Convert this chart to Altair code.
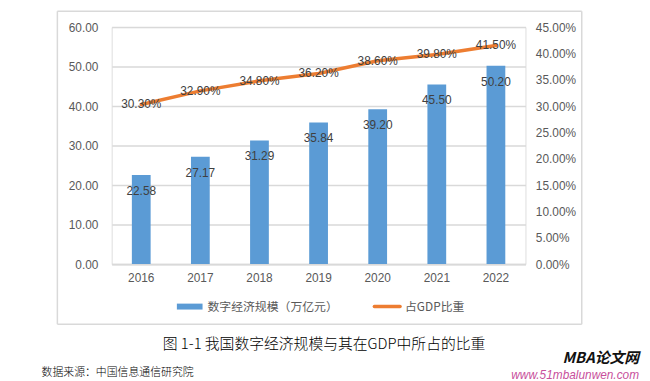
import altair as alt
import pandas as pd

years = ["2016", "2017", "2018", "2019", "2020", "2021", "2022"]
scale_vals = [22.58, 27.17, 31.29, 35.84, 39.20, 45.50, 50.20]
gdp_share = [30.30, 32.90, 34.80, 36.20, 38.60, 39.80, 41.50]

legend_bar = "数字经济规模（万亿元）"
legend_line = "占GDP比重"
caption = "图 1-1 我国数字经济规模与其在GDP中所占的比重"
source = "数据来源：中国信息通信研究院"
wm1 = "MBA论文网"
wm2 = "www.51mbalunwen.com"

df = pd.DataFrame({"year": years, "scale": scale_vals, "share": gdp_share})
one = pd.DataFrame({"k": [0]})

NUM_FONT = "Liberation Sans"
CJK_FONT = "Noto Sans CJK SC"
GRID = "#d9d9d9"
LABEL = "#595959"
BLUE = "#5B9BD5"
ORANGE = "#ED7D31"

x_enc = alt.X("year:N", sort=years, title=None,
              scale=alt.Scale(paddingInner=0, paddingOuter=0),
              axis=alt.Axis(labelAngle=0, ticks=False, domainColor=GRID, domainWidth=2,
                            labelFont=NUM_FONT, labelFontSize=12, labelColor=LABEL,
                            labelPadding=9, grid=False))

y_left = alt.Y("scale:Q", title=None,
               scale=alt.Scale(domain=[0, 60], nice=False, zero=True),
               axis=alt.Axis(values=[0, 10, 20, 30, 40, 50, 60], format=".2f",
                             labelOverlap=False, labelBound=False, labelFlush=False,
                             domain=False, ticks=False, labelPadding=14,
                             labelFont=NUM_FONT, labelFontSize=12, labelColor=LABEL,
                             gridColor=GRID, gridWidth=1.5))

y_right = alt.Y("share:Q", title=None,
                scale=alt.Scale(domain=[0, 45], nice=False, zero=True),
                axis=alt.Axis(orient="right", values=[0, 5, 10, 15, 20, 25, 30, 35, 40, 45],
                              labelExpr="format(datum.value, '.2f') + '%'",
                              labelOverlap=False, labelBound=False, labelFlush=False,
                              domain=False, ticks=False, grid=False, labelPadding=10,
                              labelFont=NUM_FONT, labelFontSize=12, labelColor=LABEL))

base = alt.Chart(df)

bars = base.mark_bar(color=BLUE, size=19).encode(x=x_enc, y=y_left)
bar_text = base.mark_text(font=NUM_FONT, fontSize=12, color="#404040", dy=16,
                          baseline="middle").encode(
    x=x_enc, y=y_left, text=alt.Text("scale:Q", format=".2f"))

line = base.mark_line(color=ORANGE, strokeWidth=3.5, strokeCap="round").encode(
    x=x_enc, y=y_right)
line_text = base.transform_calculate(
    lbl="format(datum.share, '.2f') + '%'"
).mark_text(font=NUM_FONT, fontSize=12, color="#404040", baseline="middle").encode(
    x=x_enc, y=y_right, text="lbl:N")

ann = alt.Chart(one)
BL, BR, BT, BB = -55, 476, -16, 301
b_top = ann.mark_rule(color=GRID, strokeWidth=1.5).encode(
    x=alt.value(BL), x2=alt.value(BR), y=alt.value(BT))
b_bot = ann.mark_rule(color=GRID, strokeWidth=1.5).encode(
    x=alt.value(BL), x2=alt.value(BR), y=alt.value(BB))
b_left = ann.mark_rule(color=GRID, strokeWidth=1.5).encode(
    x=alt.value(BL), y=alt.value(BT), y2=alt.value(BB))
b_right = ann.mark_rule(color=GRID, strokeWidth=1.5).encode(
    x=alt.value(BR), y=alt.value(BT), y2=alt.value(BB))

leg_rect = ann.mark_rect(color=BLUE).encode(
    x=alt.value(66), x2=alt.value(92), y=alt.value(280), y2=alt.value(286))
leg_t1 = ann.mark_text(align="left", baseline="middle", font=CJK_FONT, fontSize=12,
                       color=LABEL).encode(x=alt.value(97), y=alt.value(283),
                                           text=alt.value(legend_bar))
leg_line = ann.mark_rule(color=ORANGE, strokeWidth=3.5, strokeCap="round").encode(
    x=alt.value(266), x2=alt.value(292), y=alt.value(283))
leg_t2 = ann.mark_text(align="left", baseline="middle", font=CJK_FONT, fontSize=12,
                       color=LABEL).encode(x=alt.value(297), y=alt.value(283),
                                           text=alt.value(legend_line))
cap = ann.mark_text(align="center", baseline="middle", font=CJK_FONT, fontSize=15,
                    fontWeight=300, color="#000000").encode(
    x=alt.value(215), y=alt.value(321), text=alt.value(caption))
src = ann.mark_text(align="left", baseline="middle", font=CJK_FONT, fontSize=11,
                    fontWeight=300, color="#000000").encode(
    x=alt.value(-71), y=alt.value(350), text=alt.value(source))
w1 = ann.mark_text(align="right", baseline="middle", font=CJK_FONT, fontSize=15,
                   fontWeight="bold", fontStyle="italic", color="#111111").encode(
    x=alt.value(534), y=alt.value(335), text=alt.value(wm1))
w2 = ann.mark_text(align="right", baseline="middle", font=NUM_FONT, fontSize=12,
                   fontStyle="italic", color="#c84f9c").encode(
    x=alt.value(534), y=alt.value(352), text=alt.value(wm2))

main = alt.layer(alt.layer(bars, bar_text), alt.layer(line, line_text)).resolve_scale(y="independent")

chart = alt.layer(main, b_top, b_bot, b_left, b_right, leg_rect, leg_t1, leg_line, leg_t2,
                  cap, src, w1, w2).properties(
    width=419, height=240,
    padding={"left": 105, "top": 17, "right": 118, "bottom": 116},
    autosize=alt.AutoSizeParams(type="none"),
).configure_view(stroke=None).configure(background="white")

chart.save("out.html", embed_options={"renderer": "svg", "actions": False})
